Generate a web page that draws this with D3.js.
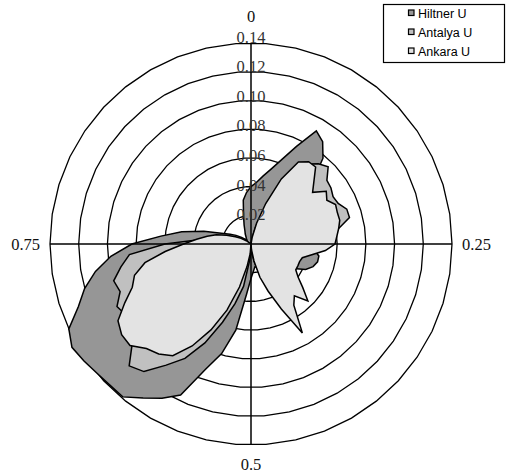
<!DOCTYPE html>
<html>
<head>
<meta charset="utf-8">
<script src="https://cdn.jsdelivr.net/npm/d3@7/dist/d3.min.js"></script>
<style>
    body { margin: 0; background: #fff; }
</style>
</head>
<body>
<svg id="vis"></svg>
<script>
// data: one value per direction, 72 directions (every 5 degrees, 0 = top, clockwise)
var directions = d3.range(0, 360, 5);
var hiltner = [
    0.040, 0.043, 0.048, 0.054, 0.0625, 0.075, 0.091, 0.087, 0.078, 0.060, 0.055, 0.055,
    0.055, 0.055, 0.055, 0.055, 0.052, 0.050, 0.048, 0.044, 0.048, 0.048, 0.046, 0.042,
    0.034, 0.030, 0.030, 0.030, 0.030, 0.028, 0.025, 0.022, 0.019, 0.017, 0.016, 0.019,
    0.024, 0.035, 0.061, 0.079, 0.093, 0.116, 0.124, 0.131, 0.139, 0.139, 0.140, 0.142,
    0.144, 0.140, 0.128, 0.120, 0.110, 0.098, 0.083, 0.063, 0.049, 0.034, 0.022, 0.016,
    0.012, 0.008, 0.005, 0.004, 0.005, 0.006, 0.008, 0.010, 0.014, 0.020, 0.031, 0.036
];
var antalya = [
    0.000, 0.000, 0.003, 0.012, 0.025, 0.044, 0.060, 0.068, 0.073, 0.076, 0.069, 0.068,
    0.066, 0.067, 0.071, 0.071, 0.062, 0.055, 0.050, 0.044, 0.038, 0.033, 0.030, 0.030,
    0.030, 0.032, 0.035, 0.040, 0.040, 0.044, 0.048, 0.040, 0.030, 0.020, 0.012, 0.006,
    0.006, 0.012, 0.030, 0.043, 0.058, 0.076, 0.092, 0.103, 0.116, 0.120, 0.108, 0.105,
    0.100, 0.103, 0.097, 0.099, 0.092, 0.085, 0.060, 0.035, 0.022, 0.016, 0.011, 0.007,
    0.004, 0.000, 0.000, 0.000, 0.000, 0.000, 0.000, 0.000, 0.000, 0.000, 0.000, 0.000
];
var ankara = [
    0.000, 0.000, 0.005, 0.015, 0.030, 0.050, 0.066, 0.070, 0.070, 0.062, 0.056, 0.064,
    0.061, 0.065, 0.064, 0.064, 0.062, 0.060, 0.0585, 0.052, 0.043, 0.037, 0.036, 0.036,
    0.036, 0.040, 0.047, 0.056, 0.047, 0.052, 0.0715, 0.050, 0.035, 0.024, 0.012, 0.004,
    0.000, 0.007, 0.016, 0.031, 0.049, 0.066, 0.082, 0.095, 0.100, 0.103, 0.110, 0.110,
    0.107, 0.097, 0.088, 0.084, 0.075, 0.060, 0.047, 0.038, 0.031, 0.025, 0.018, 0.012,
    0.008, 0.004, 0.000, 0.000, 0.000, 0.000, 0.000, 0.000, 0.000, 0.000, 0.000, 0.000
];
var seriesNames = ["Hiltner U", "Antalya U", "Ankara U"];
var seriesColors = ["#969696", "#c0c0c0", "#e3e3e3"];
var ringValues = [0.02, 0.04, 0.06, 0.08, 0.10, 0.12, 0.14];
var ringLabels = ["0.02", "0.04", "0.06", "0.08", "0.10", "0.12", "0.14"];
var categoryTicks = [0, 0.25, 0.5, 0.75];
var categoryLabels = ["0", "0.25", "0.5", "0.75"];

var width = 507, height = 475;
var cx = 251, cy = 244, outer = 201;
var gridSides = 42;
var serif = "'Liberation Serif', 'Times New Roman', serif";

var svg = d3.select("#vis").attr("width", width).attr("height", height);
var chart = svg.append("g").attr("transform", "translate(" + cx + "," + cy + ")");

var rScale = d3.scaleLinear().domain([0, 0.14]).range([0, outer]);
var angleScale = d3.scaleLinear().domain([0, 360]).range([0, 2 * Math.PI]);

// grid rings (polygons, like the spreadsheet gridlines)
var ringLine = d3.lineRadial().curve(d3.curveLinearClosed);
ringValues.forEach(function (v) {
    var pts = d3.range(gridSides).map(function (i) {
        return [Math.PI / 2 + i * 2 * Math.PI / gridSides, rScale(v)];
    });
    chart.append("path")
        .attr("d", ringLine(pts))
        .attr("fill", "none")
        .attr("stroke", "#000")
        .attr("stroke-width", 1.3);
});

// series areas
var areaLine = d3.lineRadial()
    .angle(function (d, i) { return angleScale(directions[i]); })
    .radius(function (d) { return rScale(d); })
    .curve(d3.curveLinearClosed);

[hiltner, antalya, ankara].forEach(function (s, i) {
    chart.append("path")
        .attr("d", areaLine(s))
        .attr("fill", seriesColors[i])
        .attr("stroke", "#000")
        .attr("stroke-width", 1.5);
});

// axis cross
chart.append("line").attr("x1", 0).attr("x2", 0)
    .attr("y1", -rScale(0.14)).attr("y2", rScale(0.14))
    .attr("stroke", "#000").attr("stroke-width", 1.5);
chart.append("line").attr("y1", 0).attr("y2", 0)
    .attr("x1", -rScale(0.14)).attr("x2", rScale(0.14))
    .attr("stroke", "#000").attr("stroke-width", 1.5);

// value labels on the vertical axis
chart.selectAll(".ring-label")
    .data(ringValues)
    .enter().append("text")
    .attr("class", "ring-label")
    .attr("x", 0)
    .attr("y", function (d) { return -rScale(d) * 1.03; })
    .attr("dy", "0.35em")
    .attr("text-anchor", "middle")
    .attr("font-family", serif)
    .attr("font-size", "16.5px")
    .attr("fill", "#333")
    .text(function (d, i) { return ringLabels[i]; });

// category labels around the outside
chart.selectAll(".cat-label")
    .data(categoryTicks)
    .enter().append("text")
    .attr("class", "cat-label")
    .attr("x", function (d) { return Math.sin(angleScale(d * 360)) * (rScale(0.14) + 10); })
    .attr("y", function (d) { return -Math.cos(angleScale(d * 360)) * (rScale(0.14) + (d === 0 ? 27 : 19)); })
    .attr("dy", "0.35em")
    .attr("text-anchor", function (d) { return d === 0.25 ? "start" : d === 0.75 ? "end" : "middle"; })
    .attr("font-family", serif)
    .attr("font-size", "16.5px")
    .attr("fill", "#111")
    .text(function (d, i) { return categoryLabels[i]; });

// legend
var legend = svg.append("g");
legend.append("rect")
    .attr("x", 383.5).attr("y", 4.5).attr("width", 121).attr("height", 58)
    .attr("fill", "#fff").attr("stroke", "#000").attr("stroke-width", 1.2);
seriesNames.forEach(function (name, i) {
    legend.append("rect")
        .attr("x", 408.5).attr("y", 10 + i * 19)
        .attr("width", 5.5).attr("height", 5.5)
        .attr("fill", seriesColors[i]).attr("stroke", "#000").attr("stroke-width", 1.2);
    legend.append("text")
        .attr("x", 418).attr("y", 17.5 + i * 19)
        .attr("font-family", "'Liberation Sans', Arial, sans-serif")
        .attr("font-size", "12.5px")
        .attr("fill", "#000")
        .text(name);
});
</script>
</body>
</html>
